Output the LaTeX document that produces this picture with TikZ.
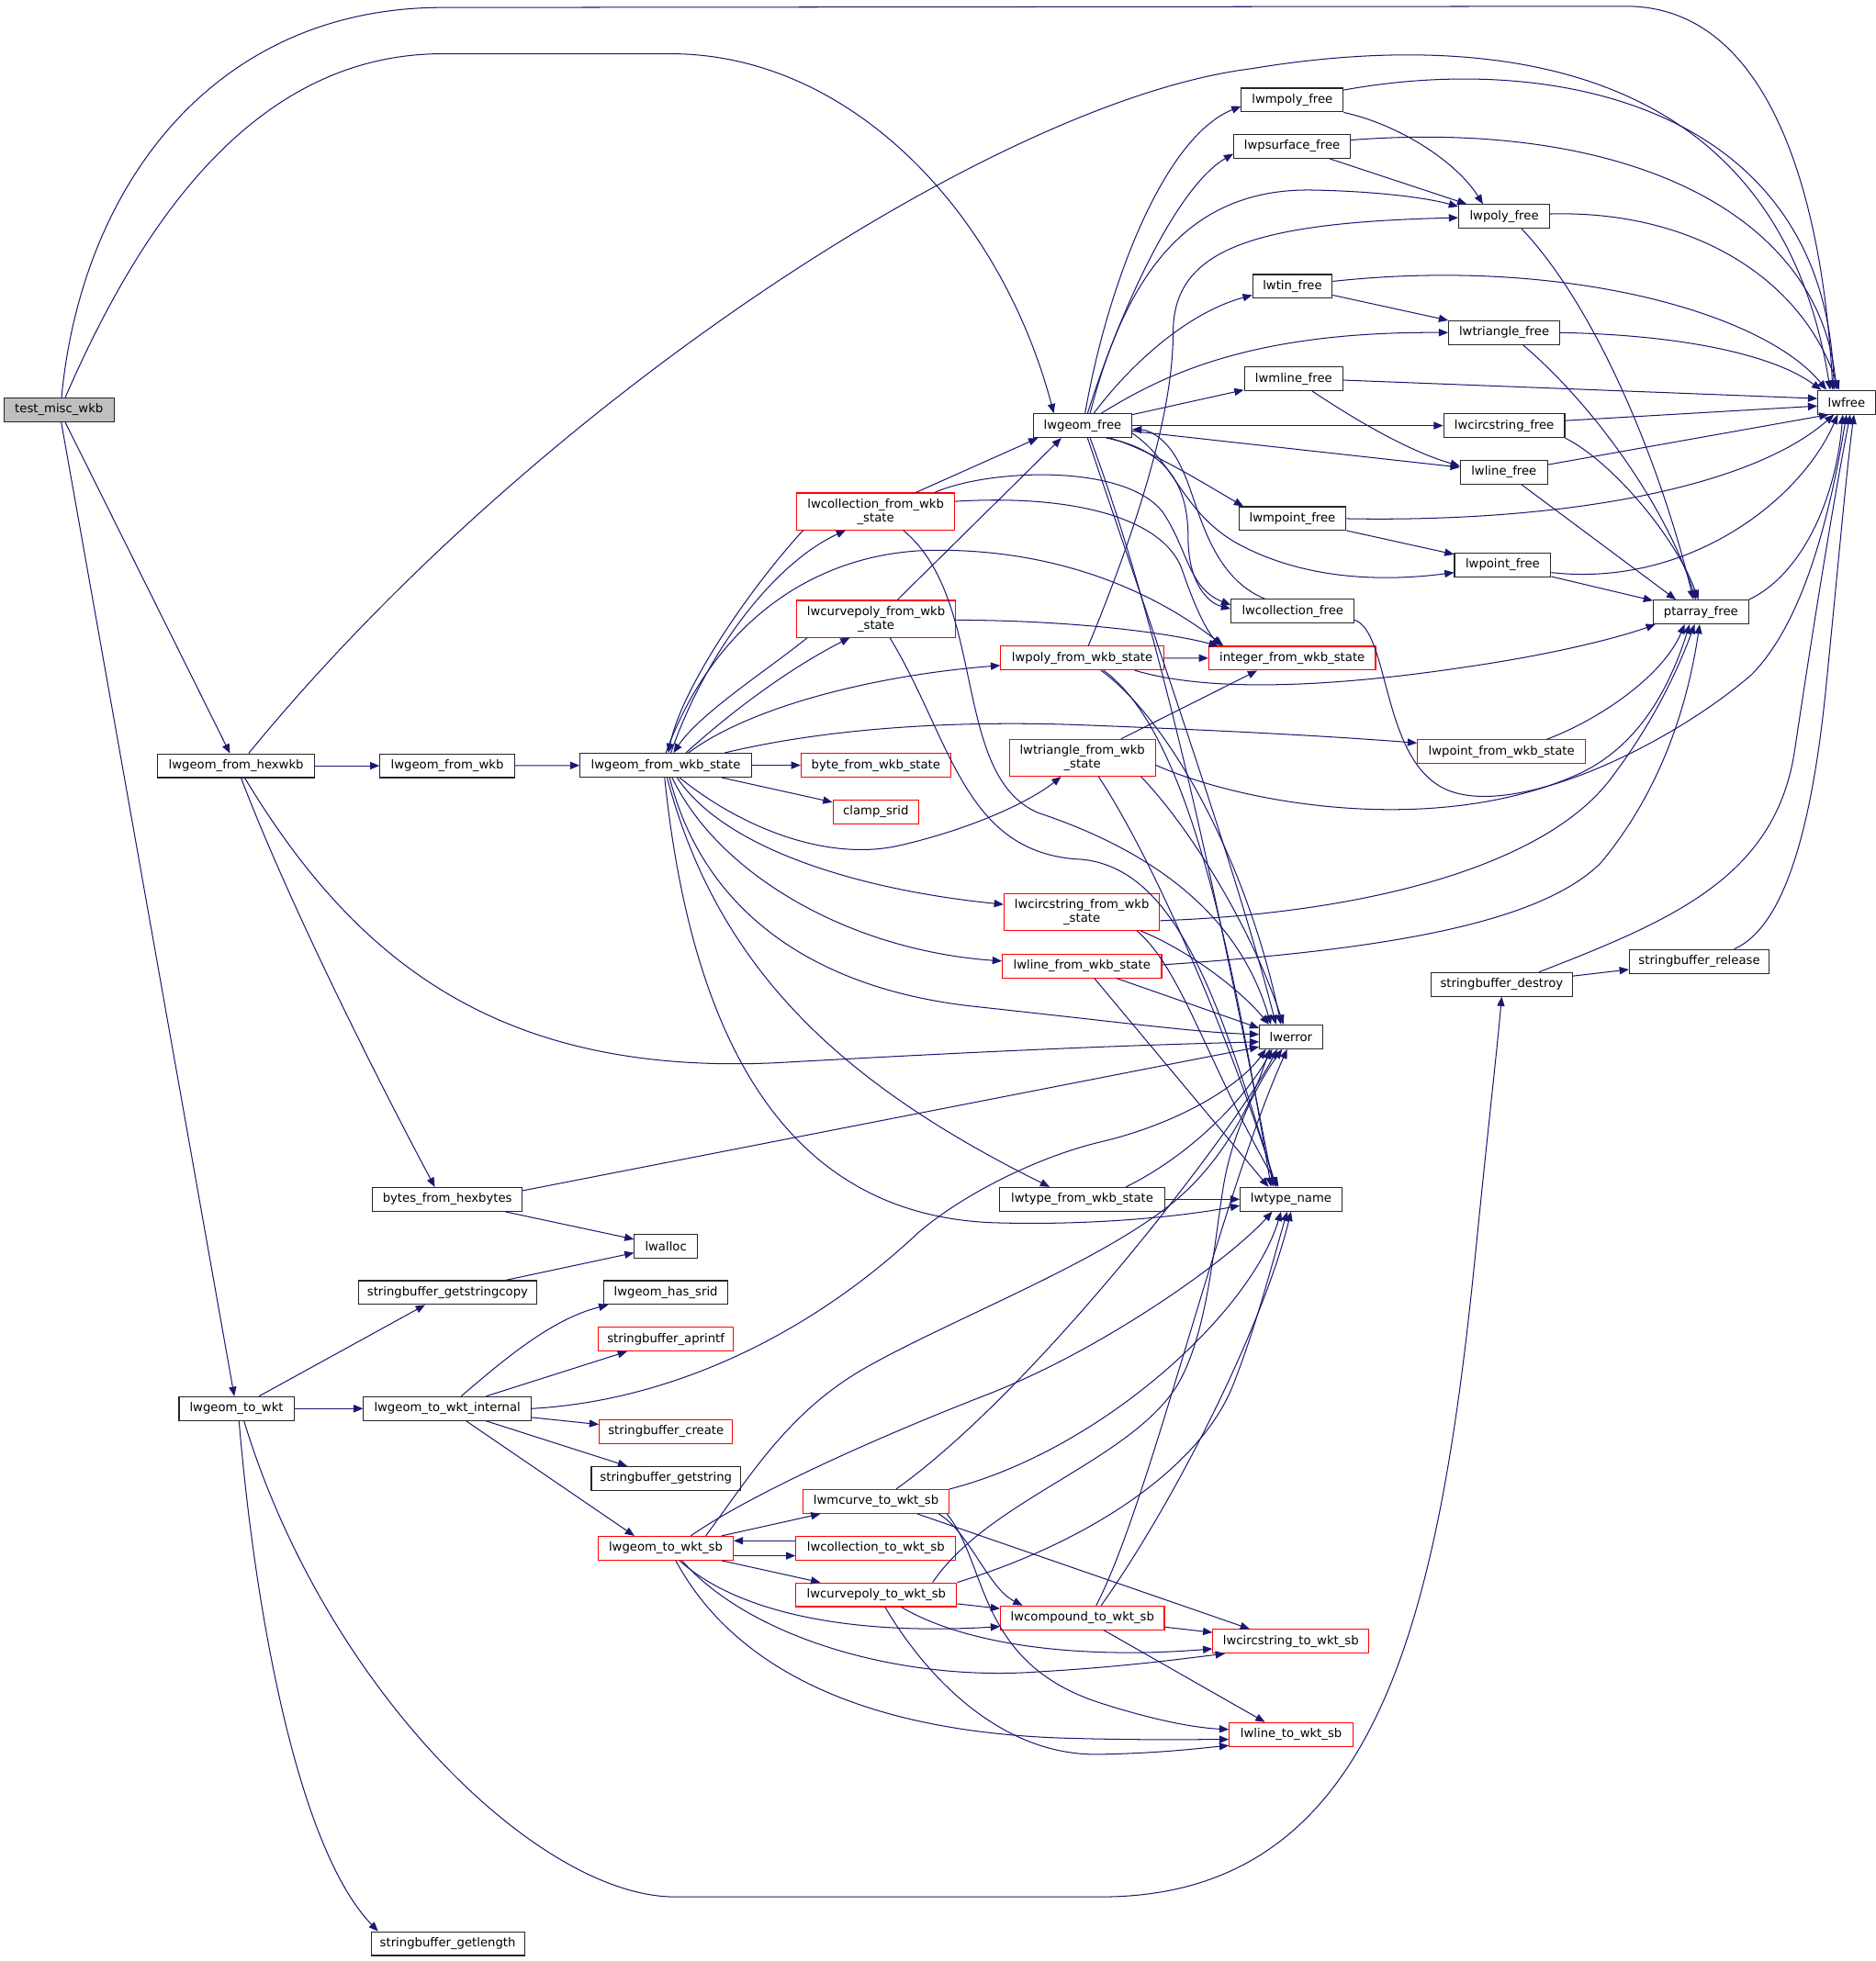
\documentclass[tikz,border=0pt]{standalone}
\usepackage{fontspec}
\newfontfamily\dvs{DejaVu Sans}
\usetikzlibrary{arrows.meta,calc}
\definecolor{navy}{HTML}{191970}
\definecolor{rootgray}{HTML}{BFBFBF}
\definecolor{nodered}{HTML}{FF0000}
\tikzset{
  nd/.style={draw=black!85, fill=white, line width=0.8pt, inner xsep=2pt, inner ysep=0pt,
    minimum height=19pt, font=\dvs\fontsize{9.7pt}{11pt}\selectfont, text=black, align=center},
  nr/.style={nd, draw=nodered},
  tall/.style={minimum height=29.4pt},
  ed/.style={draw=navy, line width=0.75pt, -{Triangle[length=7.5pt,width=6pt]}},
}
\begin{document}
\begin{tikzpicture}[x=1pt,y=-1pt]
\useasboundingbox (0,0) rectangle (1500,1568.3);
% ---------- nodes ----------
\node[nd, fill=rootgray, minimum width=87.8] (tmw) at (47.2,327.7) {test\_misc\_wkb};
\node[nd, minimum width=125.2] (hex) at (188.8,612.4) {lwgeom\_from\_hexwkb};
\node[nd, minimum width=107.6] (fwkb) at (357.6,612.4) {lwgeom\_from\_wkb};
\node[nd, minimum width=137.1] (wst) at (532.4,612) {lwgeom\_from\_wkb\_state};
\node[nr, minimum width=119.6] (byte) at (700.3,612) {byte\_from\_wkb\_state};
\node[nr, minimum width=68.6] (clamp) at (700.3,649.2) {clamp\_srid};
\node[nd, minimum width=78.6] (gfree) at (865.6,340.4) {lwgeom\_free};
\node[nr, tall, minimum width=125.9] (colst) at (700.2,409) {lwcollection\_from\_wkb\\\_state};
\node[nr, tall, minimum width=127.4] (cpst) at (700.5,494.9) {lwcurvepoly\_from\_wkb\\\_state};
\node[nr, minimum width=130.4] (polyst) at (865.3,526.2) {lwpoly\_from\_wkb\_state};
\node[nr, minimum width=133.3] (intst) at (1033.2,526.4) {integer\_from\_wkb\_state};
\node[nr, tall, minimum width=116.9] (trist) at (865.4,606) {lwtriangle\_from\_wkb\\\_state};
\node[nr, minimum width=134.5] (ptst) at (1200.6,601.2) {lwpoint\_from\_wkb\_state};
\node[nr, tall, minimum width=124.4] (csst) at (865,729.3) {lwcircstring\_from\_wkb\\\_state};
\node[nr, minimum width=127.4] (linest) at (865.1,772.6) {lwline\_from\_wkb\_state};
\node[nd, minimum width=50.2] (err) at (1032.2,829.2) {lwerror};
\node[nd, minimum width=131.6] (tyst) at (865.3,959.1) {lwtype\_from\_wkb\_state};
\node[nd, minimum width=81.3] (tname) at (1032.3,959.1) {lwtype\_name};
\node[nd, minimum width=119.6] (bhex) at (357.7,959.2) {bytes\_from\_hexbytes};
\node[nd, minimum width=50.2] (alloc) at (532.4,996.5) {lwalloc};
\node[nd, minimum width=142.3] (gsc) at (357.9,1033.7) {stringbuffer\_getstringcopy};
\node[nd, minimum width=99.4] (hsrid) at (532.4,1033.7) {lwgeom\_has\_srid};
\node[nr, minimum width=107.8] (aprintf) at (532.4,1070.9) {stringbuffer\_aprintf};
\node[nd, minimum width=91.8] (towkt) at (189.1,1126.5) {lwgeom\_to\_wkt};
\node[nd, minimum width=134] (wint) at (357.7,1126.5) {lwgeom\_to\_wkt\_internal};
\node[nr, minimum width=106.7] (sbcreate) at (532.5,1144.8) {stringbuffer\_create};
\node[nd, minimum width=119.3] (sbget) at (532.5,1182.4) {stringbuffer\_getstring};
\node[nr, minimum width=116.3] (mcurve) at (700.5,1200.8) {lwmcurve\_to\_wkt\_sb};
\node[nr, minimum width=107.9] (gsb) at (532.3,1238.2) {lwgeom\_to\_wkt\_sb};
\node[nr, minimum width=127.8] (colsb) at (700.3,1238.2) {lwcollection\_to\_wkt\_sb};
\node[nr, minimum width=128.6] (cpsb) at (700.7,1275.4) {lwcurvepoly\_to\_wkt\_sb};
\node[nr, minimum width=131] (compsb) at (865.5,1293.8) {lwcompound\_to\_wkt\_sb};
\node[nr, minimum width=124.8] (cssb) at (1032.2,1312.6) {lwcircstring\_to\_wkt\_sb};
\node[nr, minimum width=99] (linesb) at (1032.4,1387.1) {lwline\_to\_wkt\_sb};
\node[nd, minimum width=122.6] (getlen) at (358,1554.4) {stringbuffer\_getlength};
\node[nd, minimum width=113.1] (sbdestroy) at (1200.7,787.2) {stringbuffer\_destroy};
\node[nd, minimum width=111.8] (sbrelease) at (1358.7,768.8) {stringbuffer\_release};
\node[nd, minimum width=45.8] (lwfree) at (1476.4,321.7) {lwfree};
\node[nd, minimum width=76] (ptfree) at (1360,489.4) {ptarray\_free};
\node[nd, minimum width=81.4] (mpolyf) at (1033.3,80) {lwmpoly\_free};
\node[nd, minimum width=93.2] (psurf) at (1033.1,117) {lwpsurface\_free};
\node[nd, minimum width=72.7] (polyf) at (1202.7,173.1) {lwpoly\_free};
\node[nd, minimum width=63.5] (tinf) at (1033.4,229) {lwtin\_free};
\node[nd, minimum width=88.7] (trif) at (1202.7,266) {lwtriangle\_free};
\node[nd, minimum width=79] (mlinef) at (1034.4,303) {lwmline\_free};
\node[nd, minimum width=96.8] (csf) at (1202.7,340.4) {lwcircstring\_free};
\node[nd, minimum width=69.7] (linef) at (1202.5,377.6) {lwline\_free};
\node[nd, minimum width=85.7] (mptf) at (1033.4,414.8) {lwmpoint\_free};
\node[nd, minimum width=77] (ptf) at (1201.5,451.9) {lwpoint\_free};
\node[nd, minimum width=98.5] (colf) at (1033.6,488.9) {lwcollection\_free};
% ---------- edges ----------
% test_misc_wkb
\draw[ed] ($(tmw.north)+(2,0)$) .. controls (65,150) and (170,6) .. (354,6) -- (1300,5) .. controls (1420,5) and (1458,170) .. ($(lwfree.north)+(-11,0)$);
\draw[ed] ($(tmw.north)+(5,0)$) .. controls (110,185) and (200,43) .. (354,43) -- (536,43) .. controls (680,43) and (800,170) .. ($(gfree.north)+(-23,0)$);
\draw[ed] (tmw) -- (hex);
\draw[ed] (tmw) -- (towkt);
% lwgeom_from_hexwkb
\draw[ed] ($(hex.north)+(10,0)$) .. controls (430,320) and (800,80) .. (1000,55) .. controls (1180,25) and (1420,40) .. ($(lwfree.north)+(-13,0)$);
\draw[ed] (hex) -- (fwkb);
\draw[ed] ($(hex.south)+(7,0)$) .. controls (285,770) and (400,860) .. (620,850) .. controls (800,840) and (900,836) .. ($(err.west)+(0,4)$);
\draw[ed] ($(hex.south)+(4,0)$) .. controls (230,720) and (300,860) .. ($(bhex.north)+(-10,0)$);
\draw[ed] (fwkb) -- (wst);
% lwgeom_from_wkb_state
\draw[ed] ($(wst.north)+(4,0)$) .. controls (565,520) and (620,450) .. ($(colst.south)+(-24,0)$);
\draw[ed] ($(colst.south)+(-58,0)$) .. controls (600,470) and (545,550) .. ($(wst.north)+(2,0)$);
\draw[ed] ($(wst.north)+(16,0)$) .. controls (595,560) and (640,530) .. ($(cpst.south)+(-21,0)$);
\draw[ed] ($(cpst.south)+(-55,0)$) .. controls (615,535) and (560,570) .. ($(wst.north)+(6,0)$);
\draw[ed] ($(wst.north)+(18,0)$) .. controls (600,565) and (700,540) .. ($(polyst.west)+(0,6)$);
\draw[ed] ($(wst.north)+(0,0)$) .. controls (570,500) and (650,440) .. (750,440) .. controls (850,440) and (925,475) .. ($(intst.north west)+(12,0)$);
\draw[ed] (wst) -- (byte);
\draw[ed] (wst) -- (clamp);
\draw[ed] ($(wst.south)+(11,0)$) .. controls (590,660) and (660,690) .. (720,676) .. controls (780,662) and (825,640) .. ($(trist.south)+(-17,0)$);
\draw[ed] ($(wst.north east)+(-22,0)$) .. controls (650,585) and (750,575) .. (870,580) .. controls (1000,585) and (1080,590) .. ($(ptst.west)+(0,-7)$);
\draw[ed] ($(wst.south)+(9,0)$) .. controls (580,680) and (690,712) .. ($(csst.west)+(0,-6)$);
\draw[ed] ($(wst.south)+(5,0)$) .. controls (575,700) and (680,760) .. ($(linest.west)+(0,-4)$);
\draw[ed] ($(wst.south)+(3,0)$) .. controls (560,720) and (640,790) .. (780,805) .. controls (900,818) and (960,826) .. ($(err.west)+(0,-2)$);
\draw[ed] ($(wst.south)+(1,0)$) .. controls (575,780) and (680,870) .. ($(tyst.north)+(-26,0)$);
\draw[ed] ($(wst.south)+(-1,0)$) .. controls (555,850) and (640,975) .. (800,978) .. controls (880,980) and (950,972) .. ($(tname.west)+(0,5)$);
% lwcollection_from_wkb_state
\draw[ed] ($(colst.north)+(32,0)$) -- ($(gfree.south west)+(4,0)$);
\draw[ed] ($(colst.east)+(0,-8)$) .. controls (860,395) and (930,415) .. (945,455) .. controls (955,485) and (965,505) .. ($(intst.north west)+(10,0)$);
\draw[ed] ($(colst.north)+(47,0)$) .. controls (790,375) and (900,370) .. (930,410) .. controls (950,440) and (950,470) .. ($(colf.west)+(0,-5)$);
\draw[ed] ($(colst.south)+(22,0)$) .. controls (790,480) and (760,620) .. (830,650) .. controls (920,680) and (990,730) .. ($(err.north)+(-16,0)$);
% lwcurvepoly_from_wkb_state
\draw[ed] ($(cpst.north)+(17,0)$) -- ($(gfree.south)+(-17,0)$);
\draw[ed] ($(cpst.east)+(0,1)$) .. controls (850,496) and (930,505) .. ($(intst.north west)+(8,0)$);
\draw[ed] ($(cpst.south)+(11,0)$) .. controls (760,590) and (770,680) .. (860,687) .. controls (940,690) and (975,800) .. ($(tname.north)+(-12,0)$);
% lwpoly_from_wkb_state
\draw[ed] (polyst) -- (intst);
\draw[ed] ($(polyst.north)+(5,0)$) .. controls (910,420) and (938,330) .. (938,266) .. controls (938,200) and (1000,178) .. ($(polyf.west)+(0,1)$);
\draw[ed] ($(polyst.south)+(42,0)$) .. controls (960,552) and (1050,552) .. (1175,533) .. controls (1250,522) and (1300,508) .. ($(ptfree.south west)+(2,0)$);
\draw[ed] ($(polyst.south)+(15,0)$) .. controls (940,580) and (1000,700) .. ($(err.north)+(-8,0)$);
\draw[ed] ($(polyst.south)+(17,0)$) .. controls (950,585) and (985,760) .. ($(tname.north)+(-16,0)$);
% lwgeom_free
\draw[ed] ($(gfree.north)+(2,0)$) .. controls (885,230) and (930,110) .. ($(mpolyf.west)+(0,5)$);
\draw[ed] ($(gfree.north)+(4,0)$) .. controls (895,250) and (940,150) .. ($(psurf.west)+(0,6)$);
\draw[ed] ($(gfree.north)+(6,0)$) .. controls (900,220) and (950,150) .. (1050,152) .. controls (1100,153) and (1140,158) .. ($(polyf.north west)+(0,2)$);
\draw[ed] ($(gfree.north)+(9,0)$) .. controls (905,290) and (950,250) .. ($(tinf.west)+(0,7)$);
\draw[ed] ($(gfree.north)+(15,0)$) .. controls (930,300) and (1000,265) .. (trif.west);
\draw[ed] (gfree) -- (mlinef);
\draw[ed] (gfree) -- (csf);
\draw[ed] (gfree) -- (linef);
\draw[ed] ($(gfree.south)+(22,0)$) .. controls (920,360) and (960,385) .. ($(mptf.north west)+(4,0)$);
\draw[ed] ($(gfree.east)+(0,6)$) .. controls (940,370) and (945,410) .. (990,435) .. controls (1040,462) and (1100,466) .. ($(ptf.west)+(0,6)$);
\draw[ed] ($(gfree.south)+(19,0)$) .. controls (935,360) and (950,390) .. (950,430) .. controls (950,465) and (965,482) .. ($(colf.west)+(0,-2)$);
\draw[ed] ($(colf.north)+(-22,0)$) .. controls (965,460) and (958,400) .. (945,375) .. controls (935,352) and (920,344) .. ($(gfree.east)+(0,3)$);
\draw[ed] ($(gfree.south)+(4,0)$) .. controls (920,500) and (990,700) .. ($(err.north)+(-12,0)$);
\draw[ed] ($(gfree.south)+(6,0)$) .. controls (935,520) and (985,780) .. ($(tname.north)+(-14,0)$);
% free functions
\draw[ed] ($(mpolyf.east)+(0,-8)$) .. controls (1250,40) and (1460,90) .. ($(lwfree.north)+(-10,0)$);
\draw[ed] (mpolyf.south east) .. controls (1120,100) and (1165,130) .. ($(polyf.north)+(-17,0)$);
\draw[ed] ($(psurf.east)+(0,-5)$) .. controls (1300,95) and (1455,170) .. ($(lwfree.north)+(-8,0)$);
\draw[ed] (psurf) -- (polyf);
\draw[ed] ($(polyf.east)+(0,-2)$) .. controls (1350,168) and (1440,220) .. ($(lwfree.north)+(-6,0)$);
\draw[ed] ($(polyf.south)+(14,0)$) .. controls (1280,250) and (1330,380) .. ($(ptfree.north)+(-6,0)$);
\draw[ed] ($(tinf.east)+(0,-4)$) .. controls (1250,205) and (1410,250) .. ($(lwfree.north)+(-16,0)$);
\draw[ed] (tinf) -- (trif);
\draw[ed] (trif.east) .. controls (1350,268) and (1420,285) .. ($(lwfree.north west)+(3,0)$);
\draw[ed] ($(trif.south)+(15,0)$) .. controls (1270,320) and (1330,400) .. ($(ptfree.north)+(-4,0)$);
\draw[ed] ($(mlinef.east)+(0,1)$) -- ($(lwfree.west)+(0,-3)$);
\draw[ed] ($(mlinef.south)+(15,0)$) .. controls (1090,340) and (1130,362) .. ($(linef.west)+(0,-5)$);
\draw[ed] ($(csf.east)+(0,-4)$) -- ($(lwfree.west)+(0,3)$);
\draw[ed] (csf.south east) .. controls (1290,370) and (1340,430) .. ($(ptfree.north)+(-2,0)$);
\draw[ed] ($(linef.east)+(0,-6)$) -- ($(lwfree.south west)+(9,0)$);
\draw[ed] ($(linef.south)+(14,0)$) -- ($(ptfree.north)+(-20,0)$);
\draw[ed] (mptf.east) .. controls (1250,418) and (1400,390) .. ($(lwfree.south)+(-10,0)$);
\draw[ed] (mptf) -- (ptf);
\draw[ed] ($(ptf.east)+(0,6)$) .. controls (1350,470) and (1440,400) .. ($(lwfree.south)+(-7,0)$);
\draw[ed] (ptf) -- (ptfree);
\draw[ed] (ptfree.north east) .. controls (1440,460) and (1468,400) .. ($(lwfree.south)+(-3,0)$);
\draw[ed] ($(colf.east)+(0,7)$) .. controls (1110,505) and (1105,600) .. (1150,628) .. controls (1200,660) and (1330,600) .. (1400,540) .. controls (1440,500) and (1462,420) .. ($(lwfree.south)+(0,0)$);
\draw[ed] (sbdestroy) -- (sbrelease);
\draw[ed] ($(sbdestroy.north)+(30,0)$) .. controls (1340,735) and (1420,700) .. (1435,600) .. controls (1450,500) and (1466,400) .. ($(lwfree.south)+(3,0)$);
\draw[ed] ($(sbrelease.north)+(28,0)$) .. controls (1430,740) and (1450,650) .. (1460,550) .. controls (1470,450) and (1476,380) .. ($(lwfree.south)+(6,0)$);
% point / triangle / circstring / line from wkb
\draw[ed] ($(ptst.north)+(36,0)$) .. controls (1280,575) and (1330,540) .. ($(ptfree.south)+(-13,0)$);
\draw[ed] ($(trist.north)+(31,0)$) -- ($(intst.south)+(-28,0)$);
\draw[ed] ($(trist.east)+(0,6)$) .. controls (1000,645) and (1150,668) .. (1260,620) .. controls (1310,598) and (1335,550) .. ($(ptfree.south)+(-9,0)$);
\draw[ed] ($(trist.south east)+(-12,0)$) .. controls (950,660) and (1000,740) .. ($(err.north)+(-6,0)$);
\draw[ed] ($(trist.south)+(13,0)$) .. controls (930,700) and (990,850) .. ($(tname.north)+(-12,0)$);
\draw[ed] ($(csst.east)+(0,7)$) .. controls (1100,730) and (1240,690) .. (1290,620) .. controls (1320,580) and (1340,540) .. ($(ptfree.south)+(-5,0)$);
\draw[ed] ($(csst.south)+(47,0)$) .. controls (950,760) and (990,790) .. ($(err.north west)+(8,0)$);
\draw[ed] ($(csst.south)+(44,0)$) .. controls (945,775) and (965,850) .. ($(tname.north)+(-10,0)$);
\draw[ed] ($(linest.east)+(0,-1)$) .. controls (1100,760) and (1230,740) .. (1280,690) .. controls (1330,630) and (1350,560) .. ($(ptfree.south)+(-1,0)$);
\draw[ed] ($(linest.south)+(28,0)$) -- ($(err.west)+(0,-7)$);
\draw[ed] ($(linest.south)+(10,0)$) -- ($(tname.north)+(-18,0)$);
% lwtype_from_wkb_state
\draw[ed] (tyst) -- (tname);
\draw[ed] ($(tyst.north)+(35,0)$) .. controls (950,925) and (995,880) .. ($(err.south)+(-15,0)$);
% bytes / alloc
\draw[ed] ($(bhex.east)+(0,-7)$) -- ($(err.west)+(0,8)$);
\draw[ed] (bhex) -- (alloc);
\draw[ed] (gsc) -- (alloc);
% lwgeom_to_wkt
\draw[ed] (towkt) -- (gsc);
\draw[ed] (towkt) -- (wint);
\draw[ed] ($(towkt.south)+(2,0)$) .. controls (205,1300) and (240,1480) .. ($(getlen.north west)+(6,0)$);
\draw[ed] ($(towkt.south)+(6,0)$) .. controls (260,1350) and (430,1517) .. (540,1517) -- (880,1517) .. controls (1100,1517) and (1150,1300) .. (1180,1000) .. controls (1190,900) and (1197,840) .. (sbdestroy.south);
% lwgeom_to_wkt_internal
\draw[ed] ($(wint.north)+(11,0)$) .. controls (400,1090) and (440,1055) .. ($(hsrid.south west)+(4,0)$);
\draw[ed] ($(wint.north)+(31,0)$) -- ($(aprintf.south)+(-31,0)$);
\draw[ed] (wint.east) .. controls (540,1120) and (650,1065) .. (734,986) .. controls (770,955) and (830,925) .. (881,913) .. controls (940,899) and (990,870) .. ($(err.south)+(-20,0)$);
\draw[ed] (wint) -- (sbcreate);
\draw[ed] (wint) -- (sbget);
\draw[ed] ($(wint.south)+(15,0)$) -- ($(gsb.north)+(-25,0)$);
% lwgeom_to_wkt_sb
\draw[ed] (gsb) -- (mcurve);
\draw[ed] ($(colsb.west)+(0,-6)$) -- ($(gsb.east)+(0,-6)$);
\draw[ed] ($(gsb.east)+(0,6)$) -- ($(colsb.west)+(0,6)$);
\draw[ed] (gsb) -- (cpsb);
\draw[ed] ($(gsb.south)+(11,0)$) .. controls (590,1290) and (680,1308) .. ($(compsb.west)+(0,7)$);
\draw[ed] ($(gsb.south)+(13,0)$) .. controls (600,1310) and (720,1345) .. (830,1337) .. controls (900,1333) and (950,1326) .. ($(cssb.south west)+(10,0)$);
\draw[ed] ($(gsb.south)+(8,0)$) .. controls (590,1340) and (700,1385) .. (850,1390) .. controls (920,1392) and (960,1391) .. ($(linesb.west)+(0,4)$);
\draw[ed] ($(gsb.north)+(32,0)$) .. controls (600,1180) and (630,1130) .. (690,1095) .. controls (760,1055) and (880,1010) .. (940,960) .. controls (985,922) and (1005,870) .. ($(err.south)+(-17,0)$);
\draw[ed] ($(gsb.north)+(20,0)$) .. controls (600,1195) and (700,1150) .. (790,1115) .. controls (880,1080) and (980,1010) .. ($(tname.south)+(-15,0)$);
% lwmcurve_to_wkt_sb
\draw[ed] ($(mcurve.north)+(16,0)$) .. controls (830,1110) and (990,900) .. ($(err.south)+(-11,0)$);
\draw[ed] (mcurve.north east) .. controls (880,1160) and (1000,1050) .. ($(tname.south)+(-8,0)$);
\draw[ed] ($(mcurve.south)+(50,0)$) .. controls (775,1225) and (790,1270) .. ($(compsb.north west)+(18,0)$);
\draw[ed] ($(mcurve.south)+(33,0)$) -- ($(cssb.north)+(-33,0)$);
\draw[ed] ($(mcurve.south east)+(-2,0)$) .. controls (790,1250) and (780,1330) .. (880,1362) .. controls (930,1378) and (960,1382) .. ($(linesb.west)+(0,-4)$);
% lwcurvepoly_to_wkt_sb
\draw[ed] (cpsb) -- (compsb);
\draw[ed] ($(cpsb.south)+(20,0)$) .. controls (780,1320) and (880,1326) .. ($(cssb.west)+(0,6)$);
\draw[ed] ($(cpsb.south)+(7,0)$) .. controls (740,1340) and (800,1405) .. (880,1403) .. controls (930,1402) and (960,1398) .. ($(linesb.south west)+(0,-1)$);
\draw[ed] ($(cpsb.north)+(45,0)$) .. controls (790,1200) and (900,1170) .. (940,1110) .. controls (965,1070) and (970,1000) .. (978,950) .. controls (986,900) and (1010,860) .. ($(err.south)+(-7,0)$);
\draw[ed] (cpsb.north east) .. controls (880,1230) and (960,1170) .. (985,1110) .. controls (1005,1060) and (1020,1000) .. ($(tname.south)+(-3,0)$);
% lwcompound_to_wkt_sb
\draw[ed] (compsb) -- (cssb);
\draw[ed] ($(compsb.south)+(17,0)$) -- ($(linesb.north)+(-21,0)$);
\draw[ed] ($(compsb.north)+(11,0)$) .. controls (920,1200) and (975,960) .. ($(err.south)+(-3,0)$);
\draw[ed] ($(compsb.north)+(15,0)$) .. controls (940,1200) and (1010,1060) .. ($(tname.south)+(0,0)$);
\end{tikzpicture}
\end{document}
